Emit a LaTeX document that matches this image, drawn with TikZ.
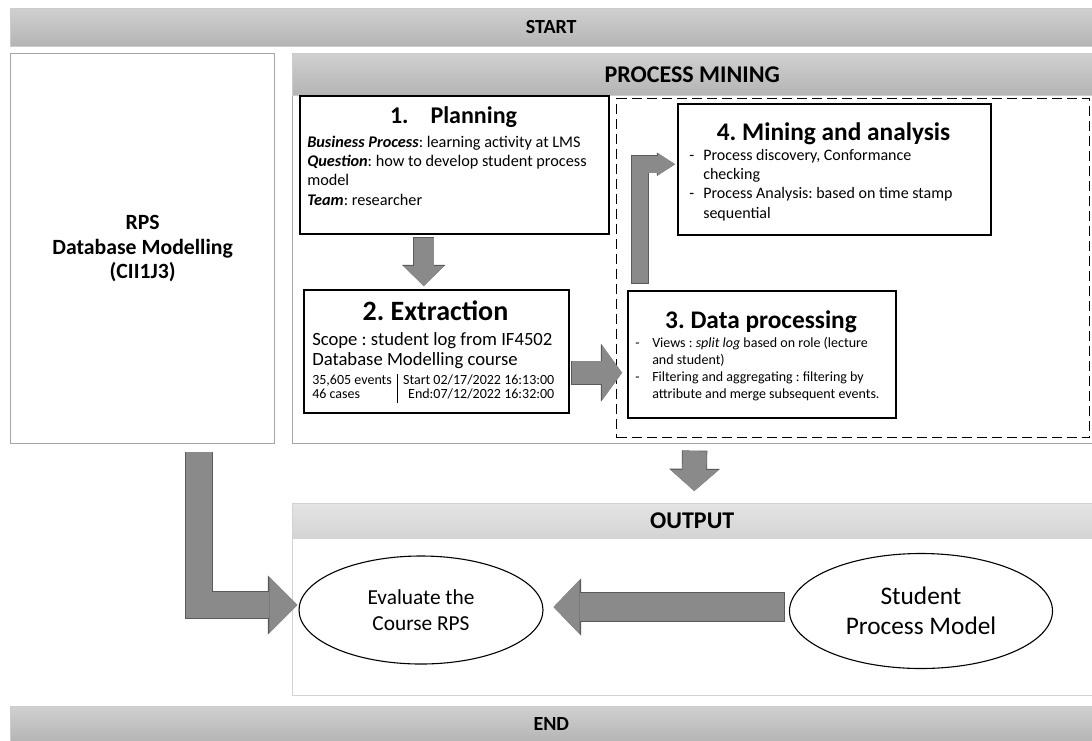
\documentclass[tikz,border=0pt]{standalone}
\usepackage{fontspec}
\setmainfont{Carlito}
\usepackage{xcolor}
\usetikzlibrary{calc}
\usetikzlibrary{arrows.meta}
\usetikzlibrary{shapes.geometric}
\tikzset{>=latex}
\frenchspacing
\newdimen\pxu \pxu=0.75pt
\definecolor{bartop}{HTML}{D0D0D0}
\definecolor{barbot}{HTML}{B4B4B4}
\definecolor{outtop}{HTML}{E4E4E4}
\definecolor{outbot}{HTML}{D4D4D4}
\definecolor{frame}{HTML}{A6A6A6}
\definecolor{fatfill}{HTML}{8A8A8A}
\definecolor{fatedge}{HTML}{5A5A5A}
\tikzstyle{bar}=[anchor=north west,inner sep=0,top color=bartop,bottom color=barbot,draw=gray!40]
\tikzstyle{panel}=[anchor=north west,inner sep=0,draw=frame,line width=1.2\pxu]
\tikzstyle{stepbox}=[anchor=north west,inner sep=0,draw=black,line width=1.5\pxu,fill=white]
\tikzstyle{oval}=[ellipse,draw=black,line width=1.1\pxu,inner sep=0,align=center]
\tikzstyle{steptitle}=[anchor=base,inner sep=0,font=\bfseries\fontsize{19}{23}\selectfont]
\tikzstyle{stepbody}=[anchor=base west,inner sep=0,align=flush left,text width=330\pxu]
% block arrow: shaft width, head length, head width (in pt)
\tikzset{fat/.style n args={3}{line width=#1pt,draw=fatfill,line join=miter,
  -{Triangle[length=#2pt,width=#3pt,line width=0pt]},
  preaction={draw=fatedge,line width=#1pt+1pt,shorten <=-0.5pt,
    -{Triangle[length=#2pt,width=#3pt,line width=0pt,scale=1.06]}}}}

\begin{document}
\begin{tikzpicture}[x=0.75pt,y=-0.75pt]
  \useasboundingbox (0,0) rectangle (1092,740);

  % start and end bars
  \node[bar,minimum width=1082\pxu,minimum height=38\pxu,font=\bfseries\fontsize{15}{18}\selectfont]
    (start) at (10,8) {START};
  \node[bar,minimum width=1082\pxu,minimum height=36\pxu,font=\bfseries\fontsize{15}{18}\selectfont]
    (finish) at (10,706) {END};

  % RPS panel
  \node[panel,minimum width=264\pxu,minimum height=390\pxu,align=center,
    font=\bfseries\fontsize{16.3}{18.5}\selectfont]
    (rps) at (10,53) {RPS\\Database Modelling\\(CII1J3)};

  % process mining panel
  \node[panel,minimum width=800\pxu,minimum height=390\pxu] (pm) at (292,53) {};
  \node[bar,minimum width=800\pxu,minimum height=42\pxu,font=\bfseries\fontsize{18}{22}\selectfont]
    (pmhead) at (292,53) {PROCESS MINING};
  \node[anchor=north west,inner sep=0,draw=black,line width=1.4\pxu,dash pattern=on 7.5pt off 3.75pt,
    minimum width=473\pxu,minimum height=339\pxu] (loop) at (616,98) {};

  % 1. planning
  \node[stepbox,minimum width=309\pxu,minimum height=138\pxu] (plan) at (299,95) {};
  \node[steptitle,font=\bfseries\fontsize{18}{22}\selectfont] (plantitle) at (453.5,123)
    {1.\hspace{22\pxu}Planning};
  \node[stepbody,font=\fontsize{12.2}{14.6}\selectfont] (planbody) at (307,147)
    {\textbf{\textit{Business Process}}: learning activity at LMS\\
     \textbf{\textit{Question}}: how to develop student process\\
     model\\
     \textbf{\textit{Team}}: researcher};

  % 2. extraction
  \node[stepbox,minimum width=265\pxu,minimum height=123\pxu] (extr) at (303,289) {};
  \node[steptitle,font=\bfseries\fontsize{21}{25}\selectfont] (extrtitle) at (435.5,320) {2. Extraction};
  \node[stepbody,font=\fontsize{14}{15.5}\selectfont] (extrbody) at (312,345)
    {Scope : student log from IF4502\\Database Modelling course};
  \node[anchor=base west,inner sep=0,font=\fontsize{10.5}{11}\selectfont] (extrtab) at (312,384)
    {\begin{tabular}[t]{@{}l@{\hspace{5\pxu}}|@{\hspace{6\pxu}}r@{}}
      35,605 events & Start 02/17/2022 16:13:00\\
      46 cases & End:07/12/2022 16:32:00
     \end{tabular}};

  % 3. data processing
  \node[stepbox,minimum width=268\pxu,minimum height=127\pxu] (proc) at (627,290) {};
  \node[steptitle] (proctitle) at (761,328) {3. Data processing};
  \node[stepbody,font=\fontsize{10.5}{12.75}\selectfont] (procbody) at (635,347)
    {\makebox[17\pxu][l]{-}Views : \textit{split log} based on role (lecture\\
     \hspace*{17\pxu}and student)\\
     \makebox[17\pxu][l]{-}Filtering and aggregating : filtering by\\
     \hspace*{17\pxu}attribute and merge subsequent events.};

  % 4. mining and analysis
  \node[stepbox,minimum width=313\pxu,minimum height=131\pxu] (mine) at (677,103) {};
  \node[steptitle] (minetitle) at (833.5,140) {4. Mining and analysis};
  \node[stepbody,font=\fontsize{12}{14.6}\selectfont] (minebody) at (689,160)
    {\makebox[14\pxu][l]{-}Process discovery, Conformance\\
     \hspace*{14\pxu}checking\\
     \makebox[14\pxu][l]{-}Process Analysis: based on time stamp\\
     \hspace*{14\pxu}sequential};

  % output panel
  \node[panel,draw=gray!35,minimum width=800\pxu,minimum height=192\pxu] (out) at (292,503) {};
  \node[bar,top color=outtop,bottom color=outbot,draw=gray!35,minimum width=800\pxu,minimum height=35\pxu,
    font=\bfseries\fontsize{18}{22}\selectfont] (outhead) at (292,503) {OUTPUT};
  \node[oval,minimum width=244\pxu,minimum height=108\pxu,font=\fontsize{16}{20}\selectfont]
    (eval) at (421,610) {Evaluate the\\Course RPS};
  \node[oval,minimum width=263\pxu,minimum height=115\pxu,font=\fontsize{19}{22.5}\selectfont]
    (spm) at (921,611) {Student\\Process Model};

  % block arrows
  \draw[fat={15}{15}{30.75}] ($(plan.south)+(-30.5,3)$) -- ($(extr.north)+(-12.5,-3)$);
  \draw[fat={17.25}{15}{41.25}] ($(extr.east)+(2,21.5)$) -- ($(proc.west)+(-5,18.5)$);
  \draw[fat={12.4}{12.75}{16.5}] ($(proc.north west)+(13,-7)$) |- ($(mine.west)+(-2,-5)$);
  \draw[fat={18}{15.75}{36}] ($(pm.south)+(2,7)$) -- ($(outhead.north)+(2,-12)$);
  \draw[fat={19.9}{21}{42}] ($(rps.south)+(56.5,8)$) |- ($(eval.west)+(-1,-5)$);
  \draw[fat={21}{19.5}{40.5}] ($(spm.west)+(-5,-4)$) -- ($(eval.east)+(10,-3)$);

\end{tikzpicture}
\end{document}
